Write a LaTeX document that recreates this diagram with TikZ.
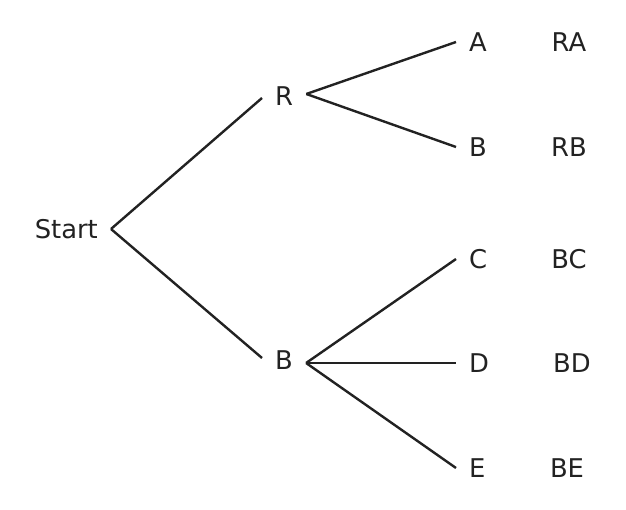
\documentclass[tikz,border=0pt]{standalone}
\usepackage{fontspec}
\setmainfont{DejaVu Sans}
\definecolor{ink}{HTML}{222222}
\begin{document}
\begin{tikzpicture}[x=1pt,y=-1pt,
  lbl/.style={text=ink,font=\fontsize{25.8}{30}\selectfont,inner xsep=13pt,inner ysep=0pt},
  edge/.style={draw=ink,line width=2.4pt}]
\useasboundingbox (0,0) rectangle (626,510);
\node[lbl,anchor=east] (start) at (111,229) {Start};
\node[lbl,anchor=west] (R) at (262,96) {R};
\node[lbl,anchor=west] (B) at (262,360) {B};
\node[lbl,anchor=west] (A) at (456,42) {A};
\node[lbl,anchor=west] (BB) at (456,147) {B};
\node[lbl,anchor=west] (C) at (456,259) {C};
\node[lbl,anchor=west] (D) at (456,363) {D};
\node[lbl,anchor=west] (E) at (456,468) {E};
\node[lbl] (RA) at (569,42) {RA};
\node[lbl] (RB) at (569,147) {RB};
\node[lbl] (BC) at (569,259) {BC};
\node[lbl] (BD) at (572,363) {BD};
\node[lbl] (BE) at (567,468) {BE};
\draw[edge] (start.east) -- ([yshift=-2pt]R.west);
\draw[edge] (start.east) -- ([yshift=2pt]B.west);
\draw[edge] ([yshift=2pt]R.east) -- (A.west);
\draw[edge] ([yshift=2pt]R.east) -- (BB.west);
\draw[edge] ([yshift=-3pt]B.east) -- (C.west);
\draw[edge] ([yshift=-3pt]B.east) -- (D.west);
\draw[edge] ([yshift=-3pt]B.east) -- (E.west);
\end{tikzpicture}
\end{document}
